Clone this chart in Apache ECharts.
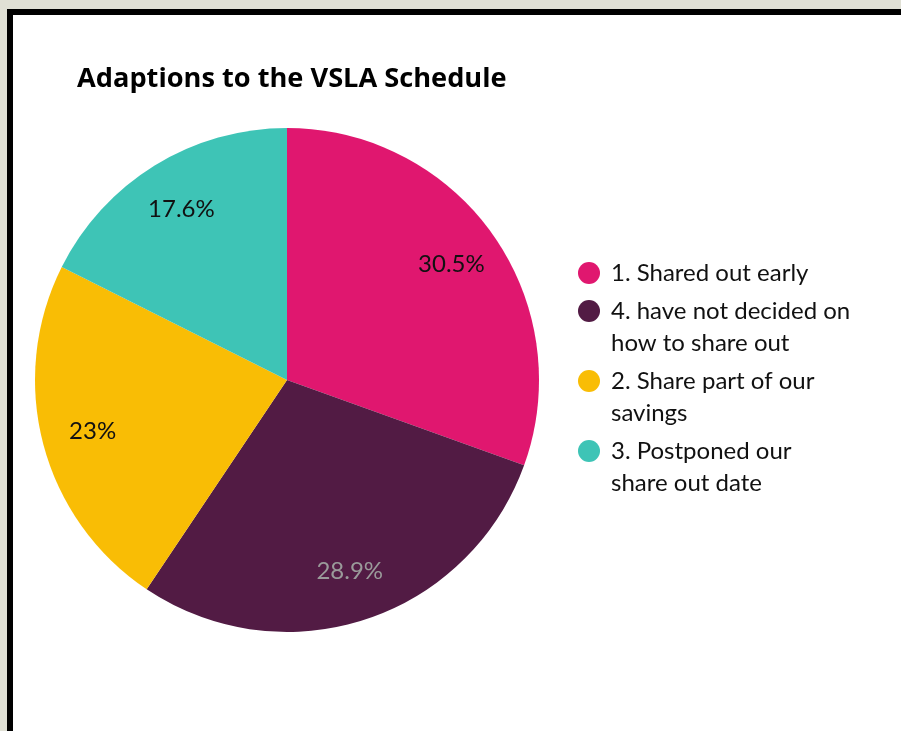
<!DOCTYPE html>
<html>
<head>
<meta charset="utf-8">
<script src="https://cdn.jsdelivr.net/npm/echarts@6/dist/echarts.min.js"></script>
<style>
  html, body { margin: 0; padding: 0; width: 901px; height: 731px; overflow: hidden; background: #e0e0d5; }
  #panel { position: absolute; left: 7px; top: 9px; width: 1000px; height: 1000px; border: 6px solid #000; background: #fff; }
  #container { position: absolute; left: 0; top: 0; width: 901px; height: 731px; }
</style>
</head>
<body>
<div id="panel"></div>
<div id="container"></div>
<script>
var titleText = 'Adaptions to the VSLA Schedule';
var categories = ['1. Shared out early', '4. have not decided on how to share out', '2. Share part of our savings', '3. Postponed our share out date'];
var legendLabels = ['1. Shared out early', '4. have not decided on\nhow to share out', '2. Share part of our\nsavings', '3. Postponed our\nshare out date'];
var values = [30.5, 28.9, 23, 17.6];

var colors = ['#e0176f', '#521b44', '#f9bd05', '#3ec4b6'];
var labelColors = ['#111', '#9a9a9a', '#111', '#111'];
var fontFamily = 'Lato';

var myChart = echarts.init(document.getElementById('container'), null, { renderer: 'canvas' });

var pieData = categories.map(function (name, i) {
    return { name: name, value: values[i], itemStyle: { color: colors[i] } };
});

var labelData = categories.map(function (name, i) {
    return {
        name: name,
        value: values[i],
        label: { color: labelColors[i] }
    };
});

// rich text so that the top padding pushes the wrapped text down to the icon line
var legendData = categories.map(function (name, i) {
    var twoLines = legendLabels[i].indexOf('\n') >= 0;
    return { name: name, textStyle: { padding: twoLines ? [32, 0, 0, 6] : [0, 0, 0, 6] } };
});

var option = {
    animation: false,
    backgroundColor: 'transparent',
    title: {
        text: titleText,
        left: 77,
        top: 66,
        padding: 0,
        textStyle: { fontFamily: 'Open Sans', fontWeight: 'bold', fontSize: 27.2, color: '#000' }
    },
    legend: {
        orient: 'vertical',
        left: 578,
        top: 257,
        padding: 0,
        itemGap: -26,
        itemWidth: 22,
        itemHeight: 22,
        icon: 'circle',
        data: legendData,
        formatter: function (name) {
            return legendLabels[categories.indexOf(name)].split('\n').map(function (line) {
                return '{t|' + line + '}';
            }).join('\n');
        },
        textStyle: {
            fontFamily: fontFamily, fontSize: 24, lineHeight: 32, color: '#111',
            rich: { t: { fontFamily: fontFamily, fontSize: 24, lineHeight: 32, color: '#111' } }
        }
    },
    series: [
        {
            type: 'pie',
            center: [287, 380],
            radius: [0, 252],
            startAngle: 90,
            clockwise: true,
            label: { show: false },
            labelLine: { show: false },
            emphasis: { disabled: true },
            data: pieData
        },
        {
            // transparent ring just to place the percent labels further out
            type: 'pie',
            center: [287, 380],
            radius: [144, 252],
            startAngle: 90,
            clockwise: true,
            silent: true,
            itemStyle: { color: 'transparent' },
            label: {
                show: true,
                position: 'inside',
                formatter: '{c}%',
                fontFamily: fontFamily,
                fontSize: 24
            },
            labelLine: { show: false },
            emphasis: { disabled: true },
            data: labelData
        }
    ]
};

myChart.setOption(option);
</script>
</body>
</html>
